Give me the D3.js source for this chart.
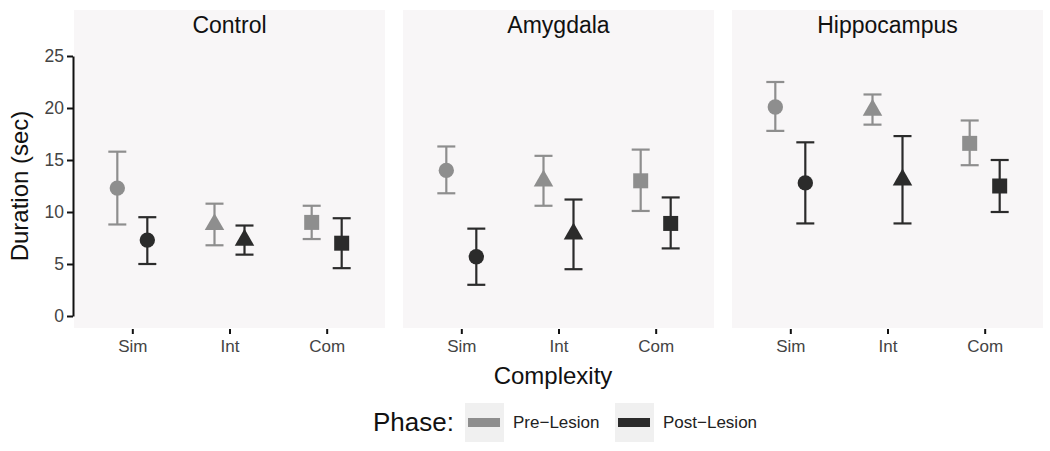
<!DOCTYPE html>
<html><head><meta charset="utf-8">
<script src="https://cdn.jsdelivr.net/npm/d3@7"></script>
<style>
body{margin:0;background:#fff;}
svg{display:block;font-family:"Liberation Sans",Arial,sans-serif;}
</style></head>
<body>
<svg id="chart" width="1050" height="451"></svg>
<script>
// ---- data ----
const panels = ["Control", "Amygdala", "Hippocampus"];
const complexity = ["Sim", "Int", "Com"];
const phases = ["Pre\u2212Lesion", "Post\u2212Lesion"];
const yTicks = [0, 5, 10, 15, 20, 25];

const preMean  = [[12.3, 8.8, 9.0], [14.0, 13.0, 13.0], [20.1, 19.8, 16.6]];
const preLow   = [[8.8, 6.8, 7.4],  [11.8, 10.6, 10.1], [17.8, 18.4, 14.5]];
const preHigh  = [[15.8, 10.8, 10.6],[16.3, 15.4, 16.0], [22.5, 21.3, 18.8]];
const postMean = [[7.3, 7.3, 7.0],  [5.7, 7.9, 8.9],   [12.8, 13.1, 12.5]];
const postLow  = [[5.0, 5.9, 4.6],  [3.0, 4.5, 6.5],   [8.9, 8.9, 10.0]];
const postHigh = [[9.5, 8.7, 9.4],  [8.4, 11.2, 11.4], [16.7, 17.3, 15.0]];

// ---- layout ----
const panelLeft = [74, 403, 732];
const panelW = 311;
const panelTop = 10, panelBottom = 328;
const colors = ["#8e8e8e", "#2b2b2b"];
const shapes = [d3.symbolCircle, d3.symbolTriangle, d3.symbolSquare];
const shapeSize = [185, 165, 225];

const svg = d3.select("#chart");
const y = d3.scaleLinear().domain([0, 25]).range([316, 56]);

const rows = [];
panels.forEach((p, pi) => {
  complexity.forEach((c, ci) => {
    rows.push({panel: pi, cat: c, ci, phase: 0, m: preMean[pi][ci], lo: preLow[pi][ci], hi: preHigh[pi][ci]});
    rows.push({panel: pi, cat: c, ci, phase: 1, m: postMean[pi][ci], lo: postLow[pi][ci], hi: postHigh[pi][ci]});
  });
});

panels.forEach((p, pi) => {
  const x0 = panelLeft[pi];
  const x = d3.scalePoint().domain(complexity).range([x0, x0 + panelW]).padding(0.6);
  const dodge = d3.scalePoint().domain([0, 1]).range([-15, 15]);
  const g = svg.append("g");
  g.append("rect").attr("x", x0).attr("y", panelTop).attr("width", panelW)
    .attr("height", panelBottom - panelTop).attr("fill", "#f8f6f7");
  g.append("text").attr("x", x0 + panelW / 2).attr("y", 33).attr("text-anchor", "middle")
    .attr("font-size", 23).attr("fill", "#111").text(p);

  // x axis
  const xa = g.append("g").attr("transform", `translate(0,${panelBottom + 1})`)
    .call(d3.axisBottom(x).tickSize(5).tickPadding(6));
  xa.select(".domain").remove();
  xa.selectAll(".tick line").attr("stroke", "#111").attr("stroke-width", 2);
  xa.selectAll(".tick text").attr("font-size", 17).attr("fill", "#444")
    .attr("font-family", "Liberation Sans, Arial, sans-serif");

  const data = rows.filter(r => r.panel === pi);
  const cx = d => x(d.cat) + dodge(d.phase);
  const eb = g.append("g");
  eb.selectAll("line.v").data(data).join("line")
    .attr("x1", cx).attr("x2", cx).attr("y1", d => y(d.hi)).attr("y2", d => y(d.lo))
    .attr("stroke", d => colors[d.phase]).attr("stroke-width", 2.2);
  eb.selectAll("line.t").data(data).join("line")
    .attr("x1", d => cx(d) - 9).attr("x2", d => cx(d) + 9).attr("y1", d => y(d.hi)).attr("y2", d => y(d.hi))
    .attr("stroke", d => colors[d.phase]).attr("stroke-width", 2.2);
  eb.selectAll("line.b").data(data).join("line")
    .attr("x1", d => cx(d) - 9).attr("x2", d => cx(d) + 9).attr("y1", d => y(d.lo)).attr("y2", d => y(d.lo))
    .attr("stroke", d => colors[d.phase]).attr("stroke-width", 2.2);
  g.append("g").selectAll("path").data(data).join("path")
    .attr("transform", d => `translate(${cx(d)},${y(d.m)})`)
    .attr("d", d => d3.symbol().type(shapes[d.ci]).size(shapeSize[d.ci])())
    .attr("fill", d => colors[d.phase]);
});

// y axis
const ya = svg.append("g").attr("transform", "translate(73,0)")
  .call(d3.axisLeft(y).tickValues(yTicks).tickSize(6).tickSizeOuter(0).tickPadding(3));
ya.select(".domain").attr("stroke", "#111").attr("stroke-width", 2);
ya.selectAll(".tick line").attr("stroke", "#111").attr("stroke-width", 2);
ya.selectAll(".tick text").attr("font-size", 17.5).attr("fill", "#444")
  .attr("font-family", "Liberation Sans, Arial, sans-serif");

svg.append("text").attr("transform", "translate(28,186) rotate(-90)")
  .attr("text-anchor", "middle").attr("font-size", 24).attr("fill", "#111").text("Duration (sec)");
svg.append("text").attr("x", 553).attr("y", 384).attr("text-anchor", "middle")
  .attr("font-size", 24).attr("fill", "#111").text("Complexity");

// legend
const leg = svg.append("g");
leg.append("text").attr("x", 373).attr("y", 431).attr("font-size", 26).attr("fill", "#111").text("Phase:");
const keyX = [465, 615];
phases.forEach((ph, i) => {
  leg.append("rect").attr("x", keyX[i]).attr("y", 403).attr("width", 39).attr("height", 39).attr("fill", "#f0f0f0");
  leg.append("rect").attr("x", keyX[i] + 3).attr("y", 418).attr("width", 32).attr("height", 9).attr("fill", colors[i]);
  leg.append("text").attr("x", keyX[i] + 48).attr("y", 428).attr("font-size", 17).attr("fill", "#222").text(ph);
});
</script>
</body></html>
